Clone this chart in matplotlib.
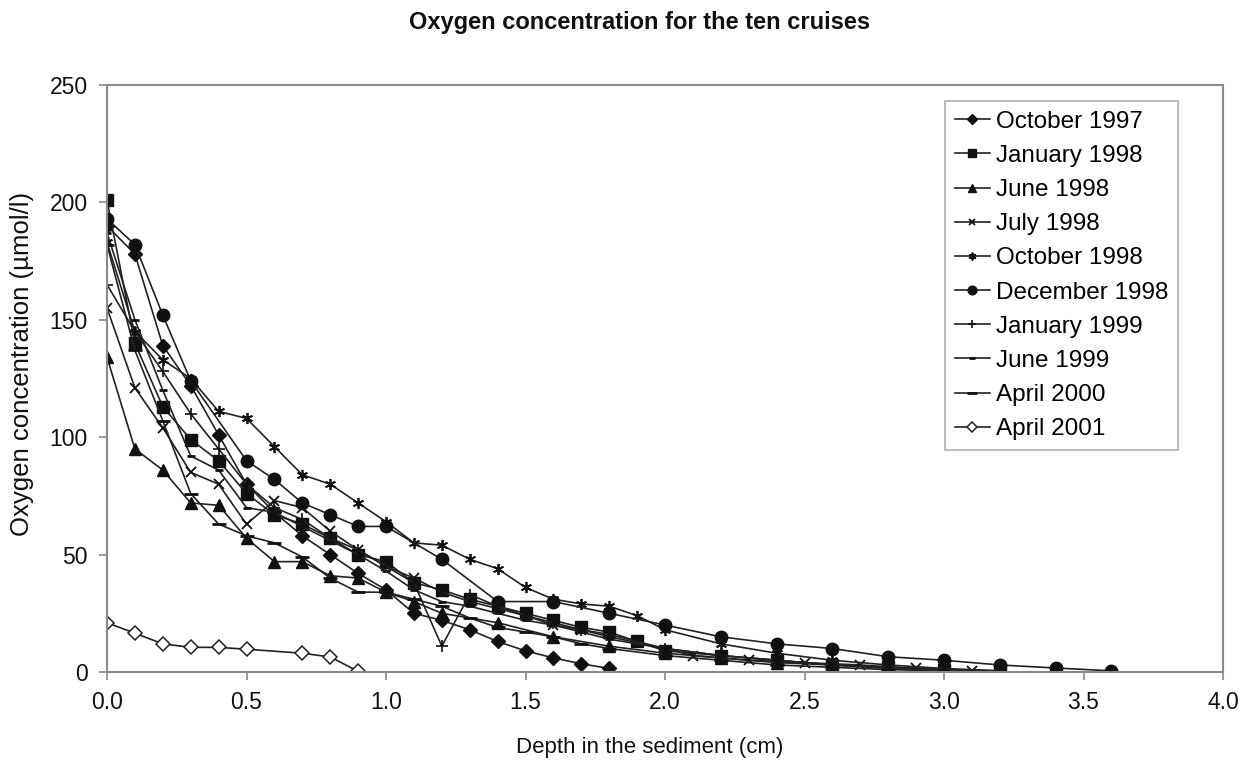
import matplotlib
matplotlib.use("Agg")
import matplotlib.pyplot as plt
from matplotlib.ticker import FormatStrFormatter

plt.rcParams['font.family'] = ['Liberation Sans', 'DejaVu Sans']

# ---- data ----
oct97_x = [0, 0.1, 0.2, 0.3, 0.4, 0.5, 0.6, 0.7, 0.8, 0.9, 1.0, 1.1, 1.2, 1.3, 1.4, 1.5, 1.6, 1.7, 1.8]
oct97_y = [190, 178, 139, 122, 101, 80, 68, 58, 50, 42, 35, 25, 22, 18, 13, 9, 6, 3.5, 1.5]

jan98_x = [0, 0.1, 0.2, 0.3, 0.4, 0.5, 0.6, 0.7, 0.8, 0.9, 1.0, 1.1, 1.2, 1.3, 1.4, 1.5, 1.6, 1.7, 1.8, 1.9, 2.0, 2.2, 2.4, 2.6, 2.8, 3.0, 3.2]
jan98_y = [201, 140, 113, 99, 90, 76, 67, 63, 57, 50, 47, 38, 35, 31, 28, 25, 22, 19, 17, 13, 9, 7, 5, 3, 2, 1, 0.5]

jun98_x = [0, 0.1, 0.2, 0.3, 0.4, 0.5, 0.6, 0.7, 0.8, 0.9, 1.0, 1.1, 1.2, 1.4, 1.6, 1.8, 2.0, 2.2, 2.4, 2.6, 2.8, 3.0]
jun98_y = [134, 95, 86, 72, 71, 57, 47, 47, 41, 40, 34, 30, 25, 21, 15, 11, 8, 6, 4, 3, 1.5, 0.5]

jul98_x = [0, 0.1, 0.2, 0.3, 0.4, 0.5, 0.6, 0.7, 0.8, 0.9, 1.0, 1.1, 1.2, 1.3, 1.4, 1.5, 1.6, 1.7, 1.8, 1.9, 2.1, 2.3, 2.5, 2.7, 2.9, 3.1]
jul98_y = [155, 121, 104, 85, 80, 63, 73, 70, 60, 52, 45, 40, 34, 30, 27, 24, 20, 18, 16, 13, 7, 5, 4, 3, 1.5, 0.5]

oct98_x = [0, 0.1, 0.2, 0.3, 0.4, 0.5, 0.6, 0.7, 0.8, 0.9, 1.0, 1.1, 1.2, 1.3, 1.4, 1.5, 1.6, 1.7, 1.8, 1.9, 2.0, 2.2, 2.4, 2.6, 2.8, 3.0, 3.2]
oct98_y = [183, 145, 133, 125, 111, 108, 96, 84, 80, 72, 64, 55, 54, 48, 44, 36, 31, 29, 28, 24, 18, 12, 8, 5, 3, 1.5, 0.5]

dec98_x = [0, 0.1, 0.2, 0.3, 0.5, 0.6, 0.7, 0.8, 0.9, 1.0, 1.2, 1.4, 1.6, 1.8, 2.0, 2.2, 2.4, 2.6, 2.8, 3.0, 3.2, 3.4, 3.6]
dec98_y = [193, 182, 152, 124, 90, 82, 72, 67, 62, 62, 48, 30, 30, 25, 20, 15, 12, 10, 6.5, 5, 3, 1.7, 0.5]

jan99_x = [0, 0.1, 0.2, 0.3, 0.4, 0.5, 0.6, 0.7, 0.8, 0.9, 1.0, 1.1, 1.2, 1.3, 1.4, 1.5, 1.6, 1.7, 1.8, 2.0, 2.2, 2.4, 2.6, 2.8, 3.0]
jan99_y = [165, 145, 128, 110, 95, 80, 70, 65, 57, 52, 45, 38, 11, 33, 28, 24, 21, 18, 15, 10, 7, 5, 3, 2, 1]

jun99_x = [0, 0.1, 0.2, 0.3, 0.4, 0.5, 0.6, 0.7, 0.8, 0.9, 1.0, 1.1, 1.2, 1.3, 1.4, 1.5, 1.6, 1.7, 1.8, 2.0, 2.2, 2.4, 2.6, 2.8, 3.0]
jun99_y = [187, 150, 120, 92, 86, 70, 68, 62, 56, 50, 43, 35, 30, 28, 25, 22, 20, 17, 14, 10, 7, 5, 3, 2, 1]

apr00_x = [0, 0.1, 0.2, 0.3, 0.4, 0.5, 0.6, 0.7, 0.8, 0.9, 1.0, 1.1, 1.2, 1.3, 1.4, 1.5, 1.6, 1.7, 1.8, 2.0, 2.2, 2.4, 2.6, 2.8, 3.0]
apr00_y = [182, 137, 107, 76, 63, 58, 55, 49, 40, 34, 34, 31, 28, 23, 19, 17, 15, 12, 10, 7, 5, 3, 2, 1, 0.5]

apr01_x = [0, 0.1, 0.2, 0.3, 0.4, 0.5, 0.7, 0.8, 0.9]
apr01_y = [21, 16.5, 12, 10.5, 10.5, 9.7, 8, 6.4, 0.3]

labels = ["October 1997", "January 1998", "June 1998", "July 1998", "October 1998",
          "December 1998", "January 1999", "June 1999", "April 2000", "April 2001"]

series = [(oct97_x, oct97_y), (jan98_x, jan98_y), (jun98_x, jun98_y), (jul98_x, jul98_y),
          (oct98_x, oct98_y), (dec98_x, dec98_y), (jan99_x, jan99_y), (jun99_x, jun99_y),
          (apr00_x, apr00_y), (apr01_x, apr01_y)]

styles = [
    dict(marker='D', ms=7, mfc='#111111', mec='#111111'),
    dict(marker='s', ms=8.5, mfc='#111111', mec='#111111'),
    dict(marker='^', ms=8.5, mfc='#111111', mec='#111111'),
    dict(marker='x', ms=7, mfc='#111111', mec='#111111', mew=1.3),
    dict(marker=(6, 2, 0), ms=8, mfc='#111111', mec='#111111', mew=1.3),
    dict(marker='o', ms=9, mfc='#111111', mec='#111111'),
    dict(marker='+', ms=9, mfc='#111111', mec='#111111', mew=1.2),
    dict(marker='_', ms=6, mfc='#111111', mec='#111111', mew=2),
    dict(marker='_', ms=10, mfc='#111111', mec='#111111', mew=2),
    dict(marker='D', ms=7, mfc='white', mec='#222222', mew=1.1),
]

fig = plt.figure(figsize=(12.5, 7.63), dpi=100)
ax = fig.add_axes([107/1250, 1 - 672/763, (1223 - 107)/1250, (672 - 85)/763])

for (xs, ys), lab, st in zip(series, labels, styles):
    ax.plot(xs, ys, color='#222222', lw=1.2, label=lab, **st)

ax.set_xlim(0, 4.0)
ax.set_ylim(0, 250)
ax.set_xticks([0, 0.5, 1.0, 1.5, 2.0, 2.5, 3.0, 3.5, 4.0])
ax.set_yticks([0, 50, 100, 150, 200, 250])
ax.xaxis.set_major_formatter(FormatStrFormatter('%.1f'))
for s in ax.spines.values():
    s.set_color('#8a8a8a')
    s.set_linewidth(1.5)
ax.tick_params(axis='both', colors='#8a8a8a', length=6, width=1.2, labelsize=16.5,
               labelcolor='#111111')
ax.tick_params(axis='x', pad=8)
ax.tick_params(axis='y', pad=8)

fig.text(650/1250, 1 - 748/763, "Depth in the sediment (cm)", ha='center', va='center',
         fontsize=16, color='#111111')
fig.text(22/1250, 1 - 364/763, "Oxygen concentration (µmol/l)", ha='center', va='center',
         rotation=90, fontsize=18.5, color='#111111')
fig.text(640/1250, 1 - 23/763, "Oxygen concentration for the ten cruises", ha='center', va='center',
         fontsize=17, fontweight='bold', color='#111111')

leg = ax.legend(loc='upper left', bbox_to_anchor=(945/1250, 1 - 101/763),
                bbox_transform=fig.transFigure, fontsize=17.5, frameon=True, fancybox=False,
                edgecolor='#999999', borderaxespad=0, handlelength=1.45, handletextpad=0.25,
                labelspacing=0.5, borderpad=0.4, markerscale=0.7)
leg.get_frame().set_linewidth(1.2)

fig.savefig("out.png", dpi=100, facecolor='white')
